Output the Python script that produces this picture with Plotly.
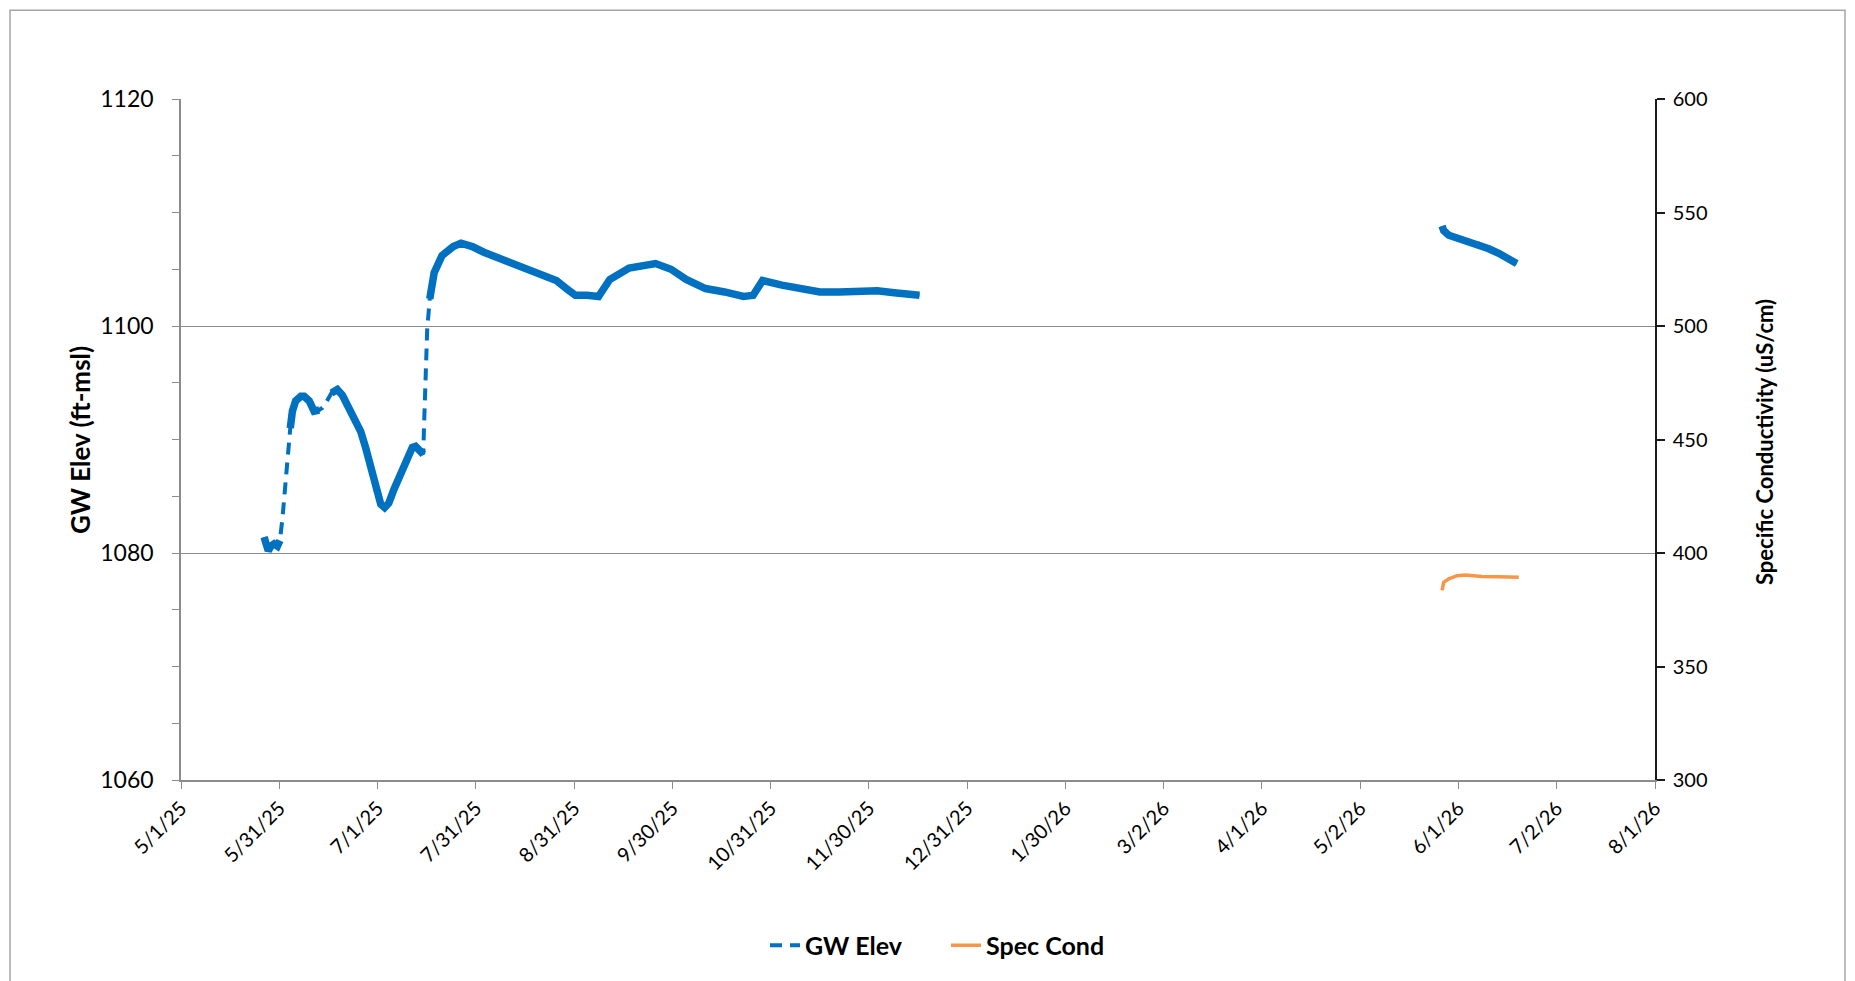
import plotly.graph_objects as go

# ---------------- data ----------------
gw_dates = [
    "2025-05-26 19:00", "2025-05-27 07:00", "2025-05-28 02:00", "2025-05-28 22:00",
    "2025-05-29 22:00", "2025-05-30 22:00", "2025-05-31 17:00", "2025-06-01 12:00",
    "2025-06-02 05:00", "2025-06-03 00:00", "2025-06-03 22:00", "2025-06-04 14:00",
    "2025-06-05 14:00", "2025-06-07 05:00", "2025-06-08 05:00", "2025-06-09 19:00",
    "2025-06-11 07:00", "2025-06-12 22:00", "2025-06-13 22:00", "2025-06-14 22:00",
    "2025-06-16 17:00", "2025-06-18 12:00", "2025-06-20 02:00", "2025-06-21 14:00",
    "2025-06-23 17:00", "2025-06-25 19:00", "2025-06-27 07:00", "2025-06-28 22:00",
    "2025-06-30 10:00", "2025-07-02 00:00", "2025-07-03 05:00", "2025-07-04 12:00",
    "2025-07-06 02:00", "2025-07-08 05:00", "2025-07-10 05:00", "2025-07-11 19:00",
    "2025-07-12 19:00", "2025-07-13 19:00", "2025-07-15 05:00", "2025-07-15 10:00",
    "2025-07-15 17:00", "2025-07-16 02:00", "2025-07-16 10:00", "2025-07-17 05:00",
    "2025-07-18 14:00", "2025-07-21 00:00", "2025-07-24 12:00", "2025-07-26 22:00",
    "2025-07-30 10:00", "2025-08-03 00:00", "2025-08-06 12:00", "2025-08-11 07:00",
    "2025-08-16 00:00", "2025-08-20 19:00", "2025-08-25 12:00", "2025-08-29 02:00",
    "2025-08-31 10:00", "2025-09-04 00:00", "2025-09-07 14:00", "2025-09-11 02:00",
    "2025-09-17 02:00", "2025-09-25 07:00", "2025-09-30 02:00", "2025-10-04 19:00",
    "2025-10-10 19:00", "2025-10-16 17:00", "2025-10-22 14:00", "2025-10-25 14:00",
    "2025-10-28 12:00", "2025-11-03 12:00", "2025-11-09 10:00", "2025-11-15 07:00",
    "2025-11-21 07:00", "2025-11-27 05:00", "2025-12-03 02:00", "2025-12-09 02:00",
    "2025-12-16 05:00",
    "2026-03-01 00:00",
    "2026-05-27 10:00", "2026-05-27 22:00", "2026-05-29 12:00", "2026-06-01 14:00",
    "2026-06-04 17:00", "2026-06-07 19:00", "2026-06-10 22:00", "2026-06-14 00:00",
    "2026-06-17 02:00", "2026-06-19 14:00",
]
gw_elev = [
    1081.4, 1080.8, 1080.2, 1080.6,
    1080.8, 1080.6, 1081.1, 1083.1,
    1085.7, 1088.1, 1091.0, 1092.5,
    1093.4, 1093.8, 1093.8, 1093.4,
    1092.5, 1092.6, 1092.8, 1093.2,
    1094.1, 1094.4, 1093.9, 1093.1,
    1091.9, 1090.7, 1089.3, 1087.5,
    1085.5, 1084.3, 1084.0, 1084.4,
    1085.6, 1086.9, 1088.4, 1089.3,
    1089.4, 1089.0, 1088.7, 1091.0,
    1093.1, 1095.5, 1099.7, 1102.4,
    1104.7, 1106.2, 1107.0, 1107.3,
    1107.0, 1106.5, 1106.1, 1105.6,
    1105.0, 1104.5, 1104.0, 1103.2,
    1102.7, 1102.7, 1102.6, 1104.1,
    1105.1, 1105.5, 1105.0, 1104.1,
    1103.3, 1103.0, 1102.6, 1102.7,
    1104.0, 1103.6, 1103.3, 1103.0,
    1103.0, 1103.1, 1103.1, 1102.9,
    1102.7,
    None,
    1108.8, 1108.4, 1108.0, 1107.7,
    1107.5, 1107.25, 1106.8, 1106.4,
    1105.8, 1105.5,
]
# 1 = continuous logger record (dense readings), 0 = sparse readings during rapid change
gw_dense = [
    1, 1, 1, 1, 1, 1, 1, 0,
    0, 0, 1, 1, 1, 1, 1, 1,
    1, 1, 0, 0, 1, 1, 1, 1,
    1, 1, 1, 1, 1, 1, 1, 1,
    1, 1, 1, 1, 1, 1, 1, 0,
    0, 0, 0, 1, 1, 1, 1, 1,
    1, 1, 1, 1, 1, 1, 1, 1,
    1, 1, 1, 1, 1, 1, 1, 1,
    1, 1, 1, 1, 1, 1, 1, 1,
    1, 1, 1, 1, 1,
    0,
    1, 1, 1, 1, 1, 1, 1, 1, 1, 1,
]

sc_dates = [
    "2026-05-27 10:00", "2026-05-27 22:00", "2026-05-29 12:00", "2026-06-01 02:00",
    "2026-06-03 17:00", "2026-06-08 19:00", "2026-06-14 00:00", "2026-06-20 05:00",
]
spec_cond = [383.5, 387.1, 388.6, 390.0, 390.3, 389.7, 389.5, 389.3]

tick_dates = [
    "2025-05-01", "2025-05-31 12:00", "2025-07-01", "2025-07-31 12:00",
    "2025-08-31", "2025-09-30 12:00", "2025-10-31", "2025-11-30 12:00",
    "2025-12-31", "2026-01-30 12:00", "2026-03-02", "2026-04-01 12:00",
    "2026-05-02", "2026-06-01 12:00", "2026-07-02", "2026-08-01 12:00",
]
tick_labels = [
    "5/1/25", "5/31/25", "7/1/25", "7/31/25", "8/31/25", "9/30/25", "10/31/25",
    "11/30/25", "12/31/25", "1/30/26", "3/2/26", "4/1/26", "5/2/26", "6/1/26",
    "7/2/26", "8/1/26",
]

# ---------------- styling ----------------
BLUE = "#0070C0"
ORANGE = "#F79646"
GRID = "#8C8C8C"
FONT = "Lato"

OFF = 8                     # page body margin added by the html page
W, H = 1855 - OFF, 981 - OFF
L, T = 181 - OFF, 99 - OFF
R = W - (1655 - OFF)
B = H - (782 - OFF)
PW, PH = W - L - R, H - T - B


def px(x):   # page x -> paper fraction
    return (x - OFF - L) / PW


def py(y):   # page y -> paper fraction
    return (H - B - (y - OFF)) / PH


fig = go.Figure()

fig.add_trace(go.Scatter(
    x=gw_dates, y=gw_elev, name="GW Elev", mode="lines",
    line=dict(color=BLUE, width=4, dash="12px,8px"),
    connectgaps=False, legendgroup="gw",
))
fig.add_trace(go.Scatter(
    x=gw_dates, y=[v if d else None for v, d in zip(gw_elev, gw_dense)],
    name="GW Elev", mode="lines", showlegend=False,
    line=dict(color=BLUE, width=7.5), connectgaps=False, legendgroup="gw",
))
fig.add_trace(go.Scatter(
    x=sc_dates, y=spec_cond, name="Spec Cond", mode="lines",
    line=dict(color=ORANGE, width=3.5), yaxis="y2",
))

fig.update_layout(
    width=W, height=H,
    margin=dict(l=L, r=R, t=T, b=B, pad=0),
    paper_bgcolor="white", plot_bgcolor="white",
    font=dict(family=FONT, color="black"),
    showlegend=True,
    legend=dict(
        orientation="h", x=px(946), xanchor="center",
        y=py(948), yanchor="middle",
        font=dict(size=25, family=FONT, weight="bold"),
        bgcolor="rgba(0,0,0,0)", entrywidth=136, tracegroupgap=0,
    ),
    xaxis=dict(
        type="date", range=["2025-05-01", "2026-08-01 12:00"],
        tickvals=tick_dates, ticktext=tick_labels, tickangle=-45,
        tickfont=dict(size=20, family=FONT),
        showgrid=False, zeroline=False,
        showline=True, linecolor=GRID, linewidth=1.5,
        ticks="outside", ticklen=7, tickcolor=GRID, tickwidth=1.3,
    ),
    yaxis=dict(
        range=[1060, 1120], tickvals=[1060, 1080, 1100, 1120],
        tickfont=dict(size=23, family=FONT), ticklabelstandoff=14,
        showgrid=True, gridcolor=GRID, gridwidth=1.3, zeroline=False,
        showline=True, linecolor=GRID, linewidth=1.5,
        ticks="outside", ticklen=7, tickcolor=GRID, tickwidth=1.3,
        minor=dict(dtick=5, ticks="outside", ticklen=7, tickcolor=GRID,
                   tickwidth=1.3, showgrid=False),
    ),
    yaxis2=dict(
        range=[300, 600], dtick=50, overlaying="y", side="right",
        tickfont=dict(size=20, family=FONT), ticklabelstandoff=4,
        showgrid=False, zeroline=False,
        showline=True, linecolor="#1a1a1a", linewidth=1.5,
        ticks="outside", ticklen=8, tickcolor="#1a1a1a", tickwidth=1.5,
    ),
)

fig.add_annotation(
    text="GW Elev (ft-msl)", xref="paper", yref="paper",
    x=px(80), y=py(441), textangle=-90,
    showarrow=False, xanchor="center", yanchor="middle",
    font=dict(size=26, family=FONT, weight="bold"),
)
fig.add_annotation(
    text="Specific Conductivity (uS/cm)", xref="paper", yref="paper",
    x=px(1765), y=py(443), textangle=-90,
    showarrow=False, xanchor="center", yanchor="middle",
    font=dict(size=22, family=FONT, weight="bold"),
)

# chart-area border
fig.add_shape(
    type="rect", xref="paper", yref="paper", layer="below",
    x0=px(10), x1=px(1845), y0=py(10), y1=py(1000),
    line=dict(color="#A6A6A6", width=1.5), fillcolor="rgba(0,0,0,0)",
)

fig.write_html("out.html")
